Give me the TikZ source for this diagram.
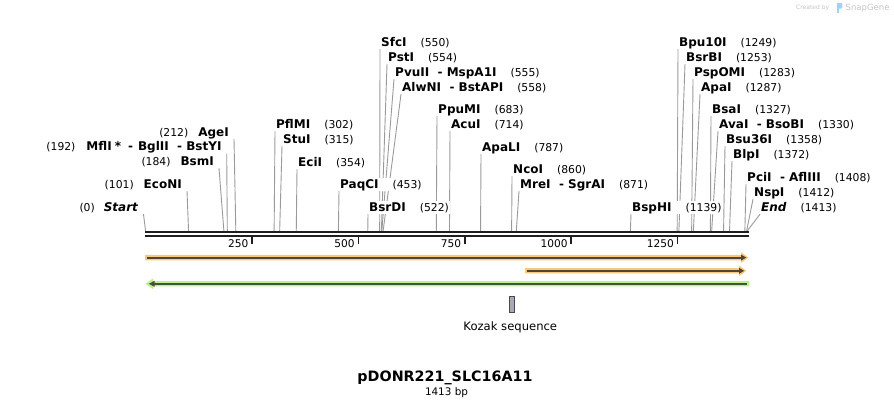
\documentclass[tikz,border=0pt]{standalone}
\usepackage{fontspec}
\setmainfont{DejaVu Sans}
\usetikzlibrary{backgrounds}
\definecolor{sitegray}{HTML}{9A9A9A}
\definecolor{seqblack}{HTML}{1E1E1E}
\definecolor{orhalo}{HTML}{F9C87A}
\definecolor{grhalo}{HTML}{BCF08E}
\definecolor{ordark}{HTML}{4E4538}
\definecolor{grdark}{HTML}{455438}
\definecolor{kozfill}{HTML}{A6ABB3}
\definecolor{kozdraw}{HTML}{4A4A4A}
\definecolor{wmgray}{HTML}{C4C4C4}
\definecolor{wmblue}{HTML}{9FD3EE}
\newcommand\nm[1]{{\fontsize{10.8}{13}\selectfont\mdseries(#1)}}
\newcommand\gp{\hspace{14pt}}
\tikzset{
  enz/.style={fill=white, inner sep=1pt, text depth=2pt, font=\fontsize{12}{14}\selectfont\bfseries},
  rlab/.style={enz, anchor=base west},
  llab/.style={enz, anchor=base east},
  site/.style={draw=sitegray, line width=0.9pt},
  tickmark/.style={draw=seqblack, line width=1.6pt},
  ticklab/.style={anchor=base east, inner sep=0pt, font=\fontsize{10.6}{12}\selectfont},
}
% right-side enzyme label: id, bp position, left x, baseline y, text
\newcommand\renz[5]{%
  \node[rlab] (#1) at (#3,#4) {#5};
  \coordinate (s#1) at ({145.6+0.4256*#2},231.3);
  \begin{scope}[on background layer]\draw[site] (s#1) -- (#1.south west);\end{scope}}
% left-side enzyme label: id, bp position, right x, baseline y, text
\newcommand\lenz[5]{%
  \node[llab] (#1) at (#3,#4) {#5};
  \coordinate (s#1) at ({145.6+0.4256*#2},231.3);
  \begin{scope}[on background layer]\draw[site] (s#1) -- ([xshift=4pt]#1.south east);\end{scope}}

\begin{document}
\begin{tikzpicture}[x=1pt,y=-1pt]
\useasboundingbox (0,0) rectangle (894,407);

% watermark
\node[anchor=base west, text=wmgray, inner sep=0pt, font=\fontsize{6}{7}\selectfont] (wm1) at (796,9.5) {Created by};
\fill[wmblue, rounded corners=1pt] (836.8,3) rectangle (842.3,8.6);
\fill[wmblue] (836.8,3) rectangle (839.3,12.5);
\node[anchor=base west, text=wmgray, inner sep=0pt, font=\fontsize{8.5}{10}\selectfont] (wm2) at (845.5,10.5) {SnapGene};

% sequence double line
\coordinate (a0) at (145,232.3); \coordinate (a1) at (749,232.3);
\coordinate (b0) at (145,236.2); \coordinate (b1) at (749,236.2);
\draw[seqblack, line width=2.1pt] (a0) -- (a1);
\draw[seqblack, line width=2.3pt] (b0) -- (b1);

% ruler ticks
\foreach \v in {250,500,750,1000,1250}{
  \coordinate (t\v) at ({145.6+0.4256*\v},237);
  \draw[tickmark] (t\v) -- ++(0,7.3);
  \node[ticklab] (tl\v) at ({145.6+0.4256*\v-3.5},247.7) {\v};
}

% left-side enzymes
\lenz{start}{0}{139.5}{211}{\nm{0}\hspace{9pt}\textit{Start}}
\lenz{econi}{101}{183}{188}{\nm{101}\hspace{10pt}EcoNI}
\lenz{bsmi}{184}{215}{165}{\nm{184}\hspace{10pt}BsmI}
\lenz{mfli}{192}{222.7}{150.5}{\nm{192}\hspace{11pt}MflI\hspace{3pt}*\hspace{7pt}-\hspace{5pt}BglII\ \ -\ BstYI}
\lenz{agei}{212}{230}{136}{\nm{212}\hspace{10pt}AgeI}

% right-side enzymes
\renz{pflmi}{302}{275}{128}{PflMI\gp\nm{302}}
\renz{stui}{315}{282}{143}{StuI\gp\nm{315}}
\renz{ecii}{354}{297}{166}{EciI\gp\nm{354}}
\renz{paqci}{453}{339}{188}{PaqCI\gp\nm{453}}
\renz{bsrdi}{522}{368}{211}{BsrDI\gp\nm{522}}
\renz{sfci}{550}{380}{46}{SfcI\gp\nm{550}}
\renz{psti}{554}{387}{61}{PstI\gp\nm{554}}
\renz{pvuii}{555}{394}{76}{PvuII\ \ - MspA1I\gp\nm{555}}
\renz{alwni}{558}{401}{91}{AlwNI\ \ - BstAPI\gp\nm{558}}
\renz{ppumi}{683}{437}{113}{PpuMI\gp\nm{683}}
\renz{acui}{714}{450}{128}{AcuI\gp\nm{714}}
\renz{apali}{787}{481}{151}{ApaLI\gp\nm{787}}
\renz{ncoi}{860}{512}{173}{NcoI\gp\nm{860}}
\renz{mrei}{871}{519}{188}{MreI\ \ - SgrAI\gp\nm{871}}
\renz{bsphi}{1139}{631}{211}{BspHI\gp\nm{1139}}
\renz{bpu}{1249}{678}{46}{Bpu10I\gp\nm{1249}}
\renz{bsrbi}{1253}{685}{61}{BsrBI\gp\nm{1253}}
\renz{pspomi}{1283}{693}{76}{PspOMI\gp\nm{1283}}
\renz{apai}{1287}{700}{91}{ApaI\gp\nm{1287}}
\renz{bsai}{1327}{711}{113}{BsaI\gp\nm{1327}}
\renz{avai}{1330}{718}{128}{AvaI\ \ - BsoBI\gp\nm{1330}}
\renz{bsu}{1358}{725}{143}{Bsu36I\gp\nm{1358}}
\renz{blpi}{1372}{732}{158}{BlpI\gp\nm{1372}}
\renz{pcii}{1408}{746}{181}{PciI\ \ - AflIII\gp\nm{1408}}
\renz{nspi}{1412}{753}{196}{NspI\gp\nm{1412}}
\renz{endl}{1413}{760}{211}{\textit{End}\gp\nm{1413}}

% feature 1 (orange, forward, full length)
\fill[orhalo] (145,254.8) -- (741,254.8) -- (741,252.2) -- (748.5,257.6) -- (741,263) -- (741,260.4) -- (145,260.4) -- cycle;
\draw[ordark, line width=2pt] (147,257.6) -- (742,257.6);
\fill[ordark] (741,254.6) -- (746.3,257.6) -- (741,260.6) -- cycle;

% feature 2 (orange, forward, partial)
\fill[orhalo] (525,268.2) -- (739,268.2) -- (739,265.5) -- (746.3,270.8) -- (739,276.1) -- (739,273.4) -- (525,273.4) -- cycle;
\draw[ordark, line width=2pt] (527,270.8) -- (740,270.8);
\fill[ordark] (739,267.8) -- (744.2,270.8) -- (739,273.8) -- cycle;

% feature 3 (green, reverse)
\fill[grhalo] (749.3,281.2) -- (153,281.2) -- (153,278.4) -- (145.5,283.8) -- (153,289.2) -- (153,286.4) -- (749.3,286.4) -- cycle;
\draw[grdark, line width=2pt] (154,283.8) -- (747.3,283.8);
\fill[grdark] (154.5,280.8) -- (148.8,283.8) -- (154.5,286.8) -- cycle;

% Kozak sequence
\node[draw=kozdraw, fill=kozfill, line width=0.9pt, inner sep=0pt, minimum width=5.2pt, minimum height=16pt] (koz) at (512.2,304.3) {};
\node[anchor=base, inner sep=0pt, font=\fontsize{11.6}{13}\selectfont] (kozl) at (510.3,330) {Kozak sequence};

% title
\node[anchor=base, inner sep=0pt, font=\fontsize{14.3}{16}\selectfont\bfseries] (title) at (445,381.5) {pDONR221\_SLC16A11};
\node[anchor=base, inner sep=0pt, font=\fontsize{10.4}{12}\selectfont] (len) at (446.5,395) {1413 bp};
\end{tikzpicture}
\end{document}
